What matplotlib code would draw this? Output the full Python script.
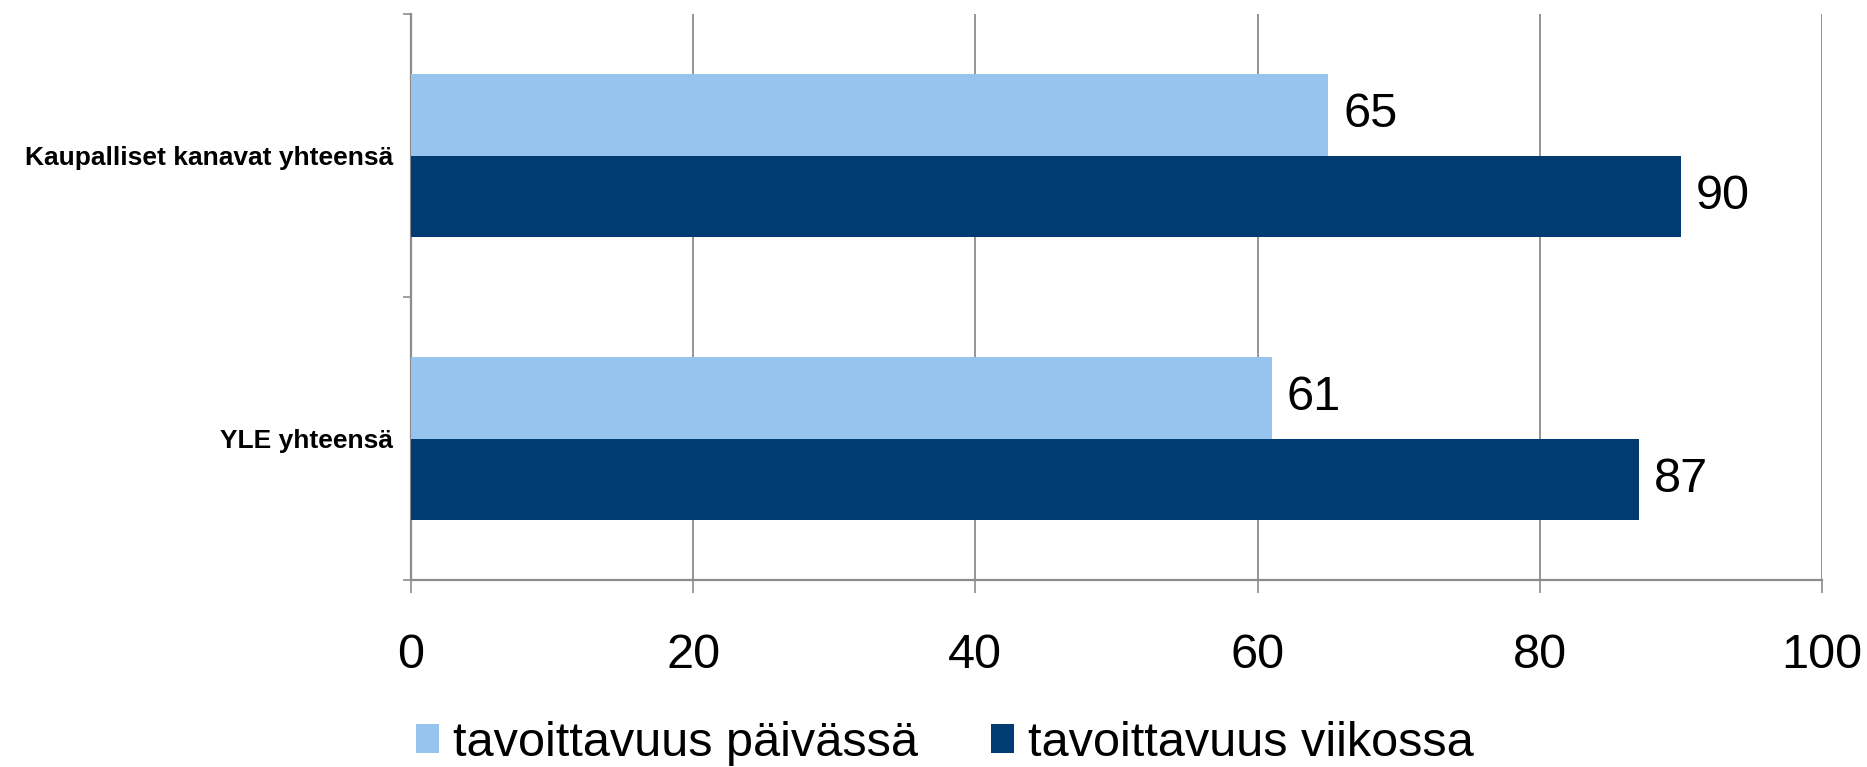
import matplotlib
matplotlib.use("Agg")
import matplotlib.pyplot as plt
import numpy as np

plt.rcParams['font.family'] = ['Liberation Sans', 'DejaVu Sans']

categories = ['YLE yhteensä', 'Kaupalliset kanavat yhteensä']
series_names = ['tavoittavuus päivässä', 'tavoittavuus viikossa']
daily = [61, 65]
weekly = [87, 90]
x_ticks = [0, 20, 40, 60, 80, 100]

LIGHT = '#97C4EE'
DARK = '#003B71'
GRID = '#8C8C8C'

fig = plt.figure(figsize=(18.67, 7.67), dpi=100)
ax = fig.add_axes([0.2201, 0.2438, 0.7558, 0.7379])

y = np.arange(len(categories))
h = 0.287
b1 = ax.barh(y + h / 2, daily, height=h, color=LIGHT, label=series_names[0], zorder=3)
b2 = ax.barh(y - h / 2, weekly, height=h, color=DARK, label=series_names[1], zorder=3)

# value labels to the right of each bar
for bars in (b1, b2):
    ax.bar_label(bars, labels=[str(v) for v in bars.datavalues], padding=11, fontsize=35)

ax.set_xlim(0, 100)
ax.set_ylim(-0.5, 1.5)
ax.set_xticks(x_ticks)
ax.set_xticklabels([str(t) for t in x_ticks], fontsize=35)
ax.tick_params(axis='x', direction='out', length=9.5, width=1.2, color=GRID, pad=29)

ax.set_yticks(y)
ax.set_yticklabels(categories, fontsize=19, fontweight='bold')
ax.tick_params(axis='y', which='major', length=0, pad=13)
ax.set_yticks([-0.5, 0.5, 1.5], minor=True)
ax.tick_params(axis='y', which='minor', direction='out', length=6, width=1.2, color=GRID)

ax.grid(axis='x', color=GRID, linewidth=1.3, zorder=0)
for side in ('top', 'right'):
    ax.spines[side].set_visible(False)
for side in ('left', 'bottom'):
    ax.spines[side].set_color(GRID)
    ax.spines[side].set_linewidth(1.6)

fig.legend(handles=[b1, b2], loc='center', bbox_to_anchor=(0.506, 0.031), ncol=2,
           frameon=False, fontsize=35, handlelength=0.48, handleheight=0.52,
           handletextpad=0.28, columnspacing=1.5, borderpad=0)

fig.savefig('out.png', dpi=100)
